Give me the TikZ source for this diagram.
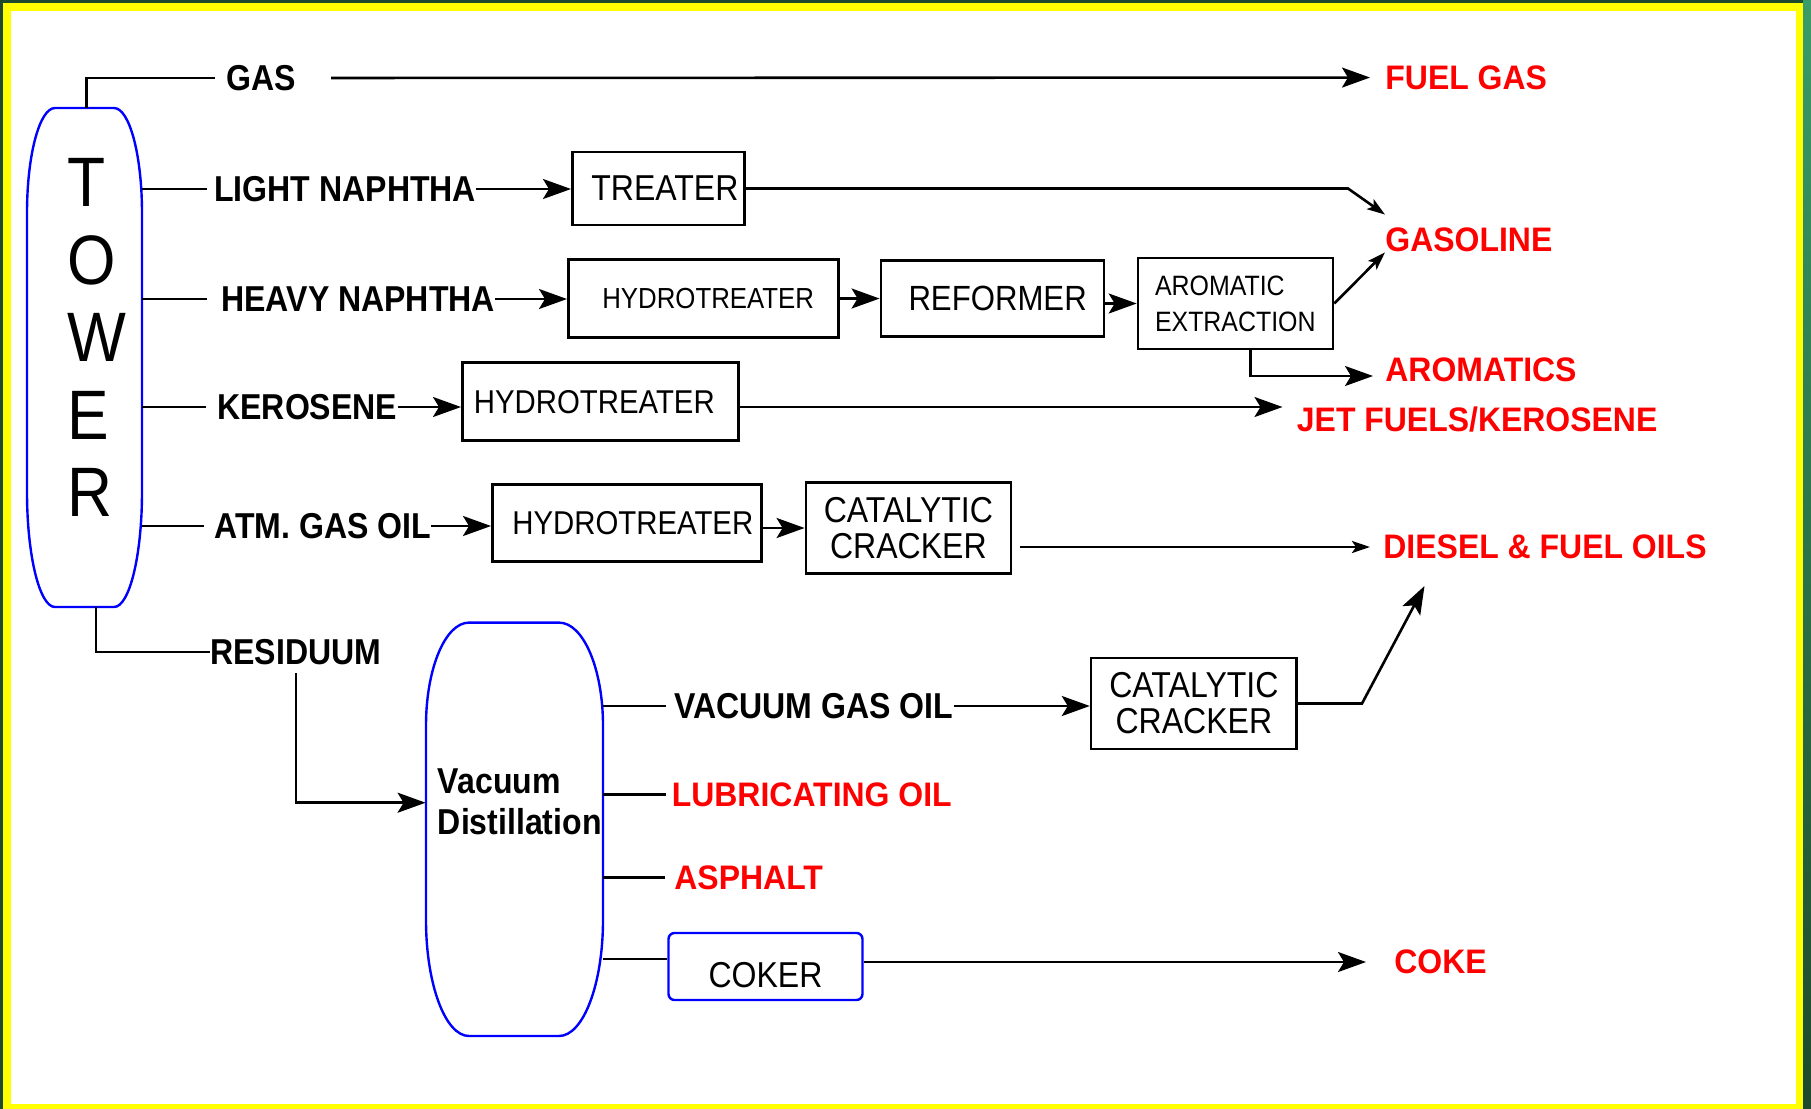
\documentclass[tikz,border=0pt]{standalone}
\usepackage{fontspec}
\setmainfont{Liberation Sans}
\newfontfamily\condfont[FakeStretch=0.89]{Liberation Sans}
\newfontfamily\redfont[FakeStretch=0.94]{Liberation Sans}
\usetikzlibrary{arrows.meta}
\hyphenpenalty=10000

\definecolor{framegreen}{RGB}{29,74,44}
\definecolor{framelight}{RGB}{58,156,104}
\definecolor{frameyellow}{RGB}{255,255,0}
\definecolor{towerblue}{RGB}{0,0,255}
\definecolor{productred}{RGB}{255,0,0}

\tikzset{
  flow/.style={line width=1.3pt},
  bigarrow/.style={flow, -{Stealth[length=14pt, width=10pt, inset=3pt]}},
  smallarrow/.style={flow, -{Stealth[length=9pt, width=6pt, inset=2pt]}},
  vessel/.style={draw=towerblue, line width=1.2pt},
  letter/.style={inner sep=0pt, anchor=base west, font=\condfont\fontsize{35}{38}\selectfont},
  stream/.style={inner sep=0pt, anchor=west, font=\condfont\bfseries\fontsize{18}{20}\selectfont},
  product/.style={inner sep=0pt, anchor=west, text=productred, font=\redfont\bfseries\fontsize{17}{20}\selectfont},
  unit/.style={draw, line width=1.3pt, anchor=west, inner ysep=0pt, align=left},
}

\begin{document}
\begin{tikzpicture}[x=0.5pt,y=0.5pt]
  % frame
  \fill[framegreen] (0,0) rectangle (1811,-1109);
  \shade[top color=framelight, bottom color=framegreen] (1803,0) rectangle (1811,-1109);
  \fill[frameyellow] (3,-3) rectangle (1803,-1109);
  \fill[white] (11,-11) rectangle (1796,-1104);

  % tower
  \node[inner sep=0pt, minimum width=57.5pt, minimum height=249.5pt] (tower) at (84.5,-357.5) {};
  \draw[vessel] (55,-108) -- (114,-108)
    arc[start angle=90, end angle=0, x radius=28, y radius=105] -- (142,-492)
    arc[start angle=0, end angle=-90, x radius=28, y radius=115] -- (55,-607)
    arc[start angle=270, end angle=180, x radius=28, y radius=115] -- (27,-213)
    arc[start angle=180, end angle=90, x radius=28, y radius=105] -- cycle;
  \foreach \l [count=\i from 0] in {T,O,W,E,R}
    \node[letter] (tower-\l) at (67,{-206.7-77.5*\i}) {\l};

  % vacuum column
  \node[inner sep=0pt, minimum width=88.5pt, minimum height=206.5pt] (vd) at (514.5,-829.2) {};
  \draw[vessel] (469,-622.6) -- (559,-622.6)
    arc[start angle=90, end angle=0, x radius=44, y radius=103] -- (603,-920)
    arc[start angle=0, end angle=-90, x radius=44, y radius=116] -- (469,-1036)
    arc[start angle=270, end angle=180, x radius=43, y radius=116] -- (426,-725.6)
    arc[start angle=180, end angle=90, x radius=43, y radius=103] -- cycle;
  \node[stream, align=left, font=\condfont\bfseries\fontsize{18}{20.35}\selectfont] (vdtext) at (437.5,-801.5) {Vacuum\\Distillation};

  % streams
  \node[stream] (gas) at (226,-78) {GAS};
  \node[stream] (ln) at (214,-189) {LIGHT NAPHTHA};
  \node[stream] (hn) at (221,-299) {HEAVY NAPHTHA};
  \node[stream] (ker) at (217,-407) {KEROSENE};
  \node[stream] (agoil) at (214,-526) {ATM. GAS OIL};
  \node[stream] (resid) at (210,-652) {RESIDUUM};
  \node[stream] (vgoil) at (674,-706) {VACUUM GAS OIL};

  % units
  \node[unit, minimum width=86pt, minimum height=36.5pt, inner xsep=9.5pt, text width=67pt,
        font=\condfont\fontsize{18}{18}\selectfont] (treater) at (571,-188.5) {TREATER};
  \node[unit, minimum width=135pt, minimum height=39pt, inner xsep=17pt, text width=101pt,
        font=\condfont\fontsize{14.5}{14.5}\selectfont] (hydro1) at (567,-298.3) {HYDROTREATER};
  \node[unit, minimum width=111.5pt, minimum height=38pt, inner xsep=13.8pt, text width=83.9pt,
        font=\condfont\fontsize{17.5}{17.5}\selectfont] (reformer) at (879.6,-298.7) {REFORMER};
  \node[unit, minimum width=97.5pt, minimum height=45.5pt, inner xsep=8.5pt, text width=80.5pt,
        font=\condfont\fontsize{14}{18}\selectfont] (arom) at (1136.7,-303.5) {AROMATIC\\EXTRACTION};
  \node[unit, minimum width=138pt, minimum height=39pt, inner xsep=5.75pt, text width=126.5pt,
        font=\condfont\fontsize{16.5}{16.5}\selectfont] (hydro2) at (461,-401.7) {HYDROTREATER};
  \node[unit, minimum width=134.5pt, minimum height=38.5pt, inner xsep=10pt, text width=114.5pt,
        font=\condfont\fontsize{16.5}{16.5}\selectfont] (hydro3) at (491,-523) {HYDROTREATER};
  \node[unit, align=center, minimum width=102.5pt, minimum height=45.5pt, inner xsep=0pt, text width=102.5pt,
        font=\condfont\fontsize{18}{18}\selectfont] (cc1) at (804.6,-528) {CATALYTIC\\CRACKER};
  \node[unit, align=center, minimum width=102.8pt, minimum height=45.5pt, inner xsep=0pt, text width=102.8pt,
        font=\condfont\fontsize{18}{18}\selectfont] (cc2) at (1089.8,-703.5) {CATALYTIC\\CRACKER};
  \node[unit, draw=towerblue, line width=1.2pt, rounded corners=3pt, minimum width=97pt, minimum height=33.5pt, inner xsep=0pt,
        text height=20.9pt, text depth=0pt, font=\condfont\fontsize{18}{18}\selectfont] (coker) at (667.3,-966.5) {COKER};

  % products
  \node[product] (fuelgas) at (1385,-77.5) {FUEL GAS};
  \node[product] (gasoline) at (1385,-240) {GASOLINE};
  \node[product] (aromatics) at (1385,-369.5) {AROMATICS};
  \node[product] (jetfuel) at (1296.5,-420) {JET FUELS/KEROSENE};
  \node[product] (diesel) at (1383,-547) {DIESEL \& FUEL OILS};
  \node[product] (lubeoil) at (671.4,-794.7) {LUBRICATING OIL};
  \node[product] (asphalt) at (674,-877.7) {ASPHALT};
  \node[product] (coke) at (1394,-962) {COKE};

  % connectors
  \draw[flow, shorten >=5.5pt] ([xshift=1pt]tower.north) |- (gas);
  \draw[bigarrow, shorten <=17.5pt, shorten >=7.5pt] (gas) -- (fuelgas);
  \foreach \s/\g in {ln/3.5pt, hn/7pt, ker/5.5pt, agoil/5pt}
    \draw[flow, shorten >=\g] (tower.east |- \s) -- (\s);
  \draw[bigarrow] (ln) -- (treater.west |- ln);
  \draw[smallarrow] (treater) -- (1348,-188.5) -- ([yshift=6.5pt]gasoline.north west);
  \draw[bigarrow] (hn) -- (hydro1.west |- hn);
  \draw[bigarrow] (hydro1) -- (reformer);
  \draw[bigarrow] (reformer.east |- arom) -- (arom);
  \draw[smallarrow] (arom.east) -- (gasoline.south west);
  \draw[bigarrow, shorten >=6pt] ([xshift=7.5pt]arom.south) |- ([yshift=-3.25pt]aromatics.west);
  \draw[bigarrow] (ker) -- (hydro2.west |- ker);
  \draw[bigarrow, shorten >=7pt] (hydro2.east |- ker) -- (jetfuel.west |- ker);
  \draw[bigarrow] (agoil) -- (hydro3.west |- agoil);
  \draw[bigarrow] (hydro3.east |- cc1) -- (cc1);
  \draw[smallarrow, shorten <=4pt, shorten >=6.5pt] (cc1.east |- diesel) -- (diesel);
  \draw[flow] ([xshift=5.75pt]tower.south) |- (resid);
  \draw[bigarrow, shorten <=4pt] (resid.south) |- ([yshift=13.25pt]vd.west);
  \draw[flow, shorten >=4pt] (vd.east |- vgoil) -- (vgoil);
  \draw[bigarrow] (vgoil) -- (cc2.west |- vgoil);
  \coordinate (diesel-in) at (1424.5,-586);
  \draw[bigarrow] (cc2.east) -- ++(64,0) -- (diesel-in);
  \draw[flow, shorten >=2.5pt] (vd.east |- lubeoil) -- (lubeoil);
  \draw[flow, shorten >=4.5pt] (vd.east |- asphalt) -- (asphalt);
  \coordinate (coker-in) at ([yshift=3.75pt]coker.west);
  \draw[flow] (vd.east |- coker-in) -- (coker-in);
  \draw[bigarrow, shorten >=14pt] (coker.east |- coke) -- (coke);
\end{tikzpicture}
\end{document}
